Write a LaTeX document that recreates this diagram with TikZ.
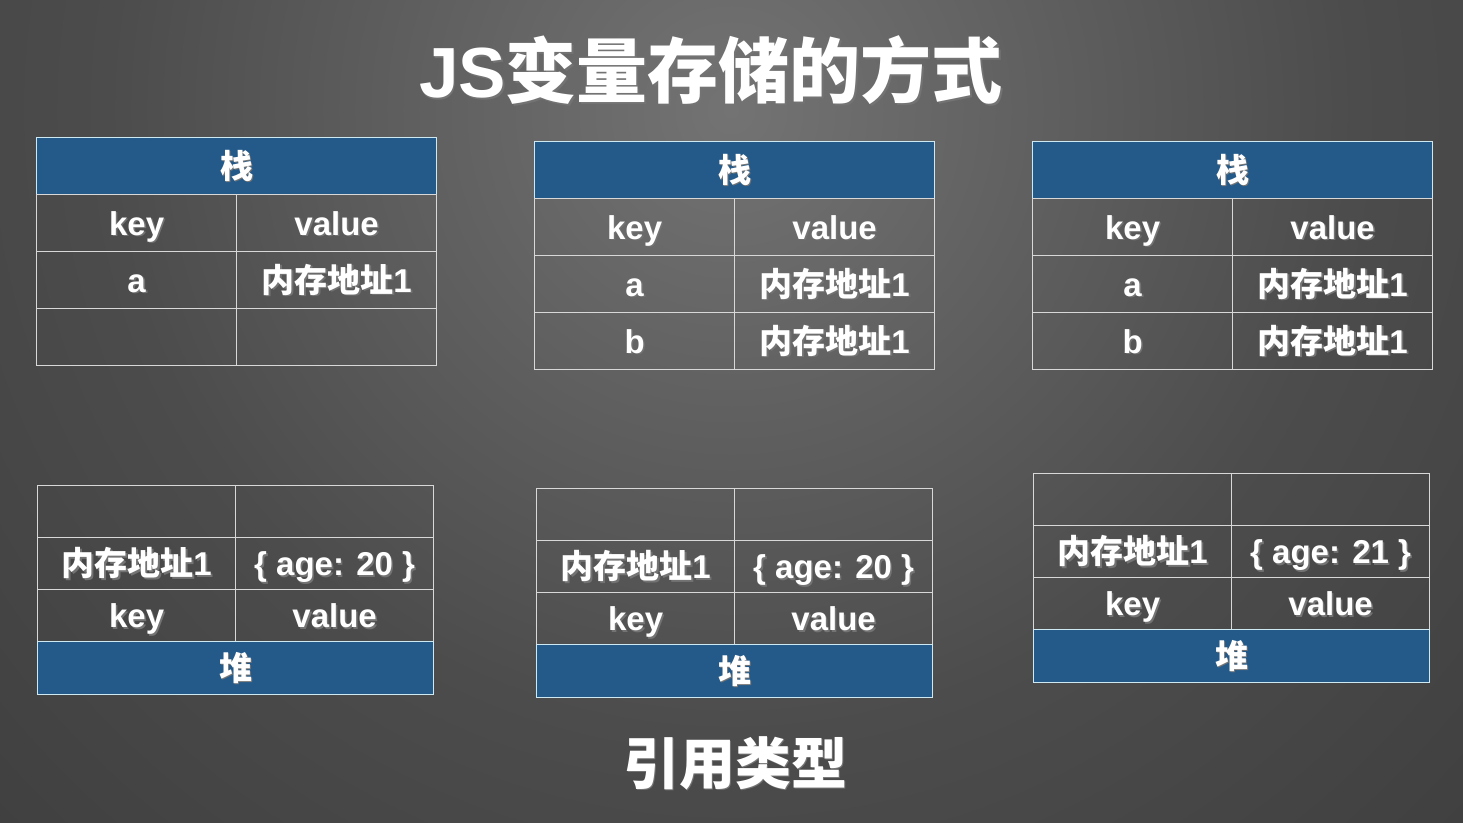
\documentclass[tikz,border=0pt]{standalone}
\usepackage{fontspec}
\setmainfont{Liberation Sans}
\newfontfamily\cjk{Noto Sans CJK SC}
\usetikzlibrary{calc}

\definecolor{hdrblue}{HTML}{235A8A}
\definecolor{hdrline}{HTML}{CFE9F2}
\definecolor{cellline}{HTML}{D8D8D8}
\definecolor{bgA}{HTML}{737373}
\definecolor{bgB}{HTML}{4C4C4C}
\definecolor{bgC}{HTML}{333333}
\definecolor{bgD}{HTML}{282828}

\pgfdeclareradialshading{bgshade}{\pgfpoint{0bp}{0bp}}{%
  color(0bp)=(bgA); color(15bp)=(bgB); color(35bp)=(bgC); color(50bp)=(bgD)}

% white text with a soft dark drop shadow
\newcommand\shtxt[1]{{\makebox[0pt][l]{\raisebox{-0.8pt}{\hspace{0.8pt}\color{black!55}#1}}#1}}
\newcommand\zh[1]{{\cjk\bfseries #1}}

\tikzset{
  cellbox/.style={draw=cellline, line width=0.6pt, inner sep=0pt, anchor=north west,
    minimum width=100pt, text=white, text height=12pt, text depth=0pt,
    font=\fontsize{16.5}{18}\selectfont\bfseries},
  toprow/.style={cellbox, minimum height=28.5pt},
  botrow/.style={cellbox, minimum height=26pt, minimum width=99pt},
  hdrbox/.style={cellbox, draw=hdrline, fill=hdrblue, minimum width=200pt},
}

% stack table: prefix, key/value of row a, key/value of row b
\newcommand\stacktable[5]{%
  \node[hdrbox, minimum height=28.5pt] (#1-h) at (0,0) {\shtxt{\zh{栈}}};
  \node[toprow] (#1-k0) at (0,57)  {\shtxt{key}};
  \node[toprow] (#1-v0) at (200,57) {\shtxt{value}};
  \node[toprow] (#1-k1) at (0,114)  {#2};
  \node[toprow] (#1-v1) at (200,114) {#3};
  \node[toprow] (#1-k2) at (0,171)  {#4};
  \node[toprow] (#1-v2) at (200,171) {#5};
}

% heap table: prefix, value stored at the address
\newcommand\heaptable[2]{%
  \node[botrow] (#1-e0) at (0,0)   {};
  \node[botrow] (#1-e1) at (198,0) {};
  \node[botrow] (#1-k1) at (0,52)   {\shtxt{\zh{内存地址}1}};
  \node[botrow] (#1-v1) at (198,52) {\shtxt{#2}};
  \node[botrow] (#1-k0) at (0,104)   {\shtxt{key}};
  \node[botrow] (#1-v0) at (198,104) {\shtxt{value}};
  \node[hdrbox, minimum width=198pt, minimum height=26.5pt] (#1-h) at (0,156) {\shtxt{\zh{堆}}};
}

\begin{document}
\begin{tikzpicture}[x=0.5pt, y=-0.5pt]
  \useasboundingbox (0,0) rectangle (1463,823);
  \begin{scope}
    \clip (0,0) rectangle (1463,823);
    \shade[shading=bgshade] (731,110) circle [radius=520pt];
  \end{scope}

  % headings
  \node[text=white, inner sep=0pt] (title) at (711,71)
    {\shtxt{\fontsize{35.5}{40}\selectfont\bfseries JS\zh{变量存储的方式}}};
  \node[text=white, inner sep=0pt] (kind) at (735,764)
    {\shtxt{\fontsize{28}{32}\selectfont\zh{引用类型}}};

  % stacks
  \begin{scope}[shift={(36,137)}]
    \stacktable{s1}{\shtxt{a}}{\shtxt{\zh{内存地址}1}}{}{}
  \end{scope}
  \begin{scope}[shift={(534,141)}]
    \stacktable{s2}{\shtxt{a}}{\shtxt{\zh{内存地址}1}}{\shtxt{b}}{\shtxt{\zh{内存地址}1}}
  \end{scope}
  \begin{scope}[shift={(1032,141)}]
    \stacktable{s3}{\shtxt{a}}{\shtxt{\zh{内存地址}1}}{\shtxt{b}}{\shtxt{\zh{内存地址}1}}
  \end{scope}

  % heaps
  \begin{scope}[shift={(37,485)}]
    \heaptable{h1}{\{ age: 20 \}}
  \end{scope}
  \begin{scope}[shift={(536,488)}]
    \heaptable{h2}{\{ age: 20 \}}
  \end{scope}
  \begin{scope}[shift={(1033,473)}]
    \heaptable{h3}{\{ age: 21 \}}
  \end{scope}
\end{tikzpicture}
\end{document}
